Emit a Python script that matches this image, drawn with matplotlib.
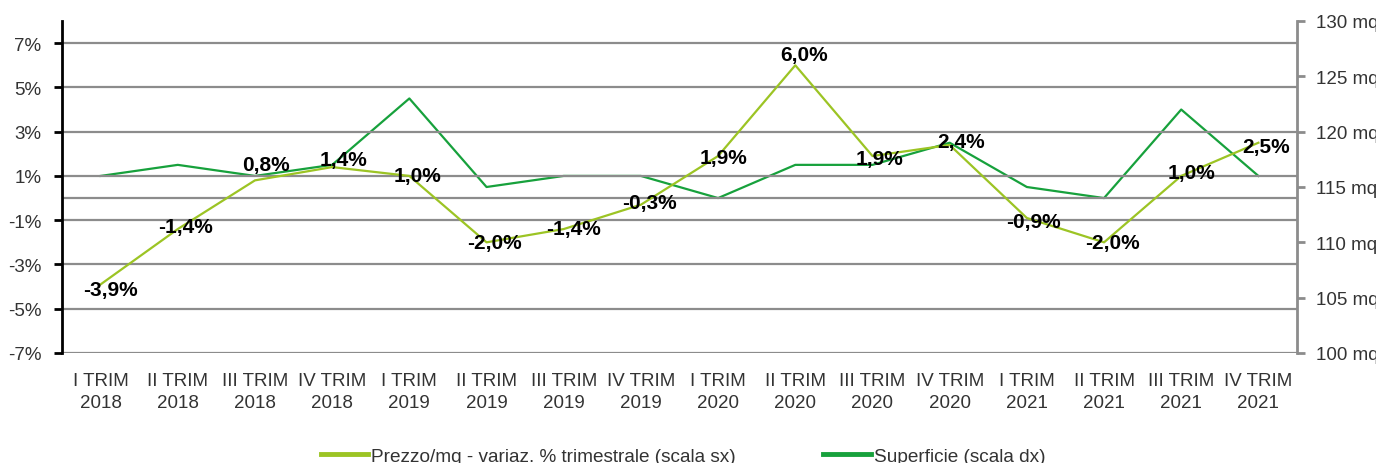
import matplotlib
matplotlib.use("Agg")
import matplotlib.pyplot as plt
from matplotlib.lines import Line2D

plt.rcParams['font.family'] = ['Liberation Sans', 'DejaVu Sans']

quarters = ["I TRIM", "II TRIM", "III TRIM", "IV TRIM"] * 4
years = ["2018"] * 4 + ["2019"] * 4 + ["2020"] * 4 + ["2021"] * 4
prezzo_var = [-3.9, -1.4, 0.8, 1.4, 1.0, -2.0, -1.4, -0.3, 1.9, 6.0, 1.9, 2.4, -0.9, -2.0, 1.0, 2.5]
superficie = [116, 117, 116, 117, 123, 115, 116, 116, 114, 117, 117, 119, 115, 114, 122, 116]
left_ticks = [-7, -5, -3, -1, 1, 3, 5, 7]
right_ticks = [100, 105, 110, 115, 120, 125, 130]

LIGHT = "#9cc424"
DARK = "#17a13c"
GRID = "#8c8c8c"
TXT = "#333333"

fig = plt.figure(figsize=(13.76, 4.64), dpi=100)
ax = fig.add_axes([62/1376, 1-354/464, (1297-62)/1376, (354-22)/464])
ax2 = ax.twinx()

x = list(range(len(prezzo_var)))
labels = [f"{q}\n{y}" for q, y in zip(quarters, years)]

ax.set_xlim(-0.5, len(x) - 0.5)
ax.set_ylim(-7, 8)
ax2.set_ylim(100, 130)

for t in left_ticks:
    ax.axhline(t, color=GRID, lw=1.6, zorder=1)
ax.axhline(0, color=GRID, lw=1.6, zorder=1)

ax.set_yticks(left_ticks)
ax.set_yticklabels([f"{t}%" for t in left_ticks])
ax2.set_yticks(right_ticks)
ax2.set_yticklabels([f"{t} mq" for t in right_ticks])
ax.set_xticks(x)
ax.set_xticklabels(labels, linespacing=1.32)

for s in ["top", "bottom", "right"]:
    ax.spines[s].set_visible(False)
for s in ["top", "bottom", "left"]:
    ax2.spines[s].set_visible(False)
ax.spines["left"].set_color("black")
ax.spines["left"].set_linewidth(2)
ax2.spines["right"].set_color(GRID)
ax2.spines["right"].set_linewidth(2)

ax.tick_params(axis='y', direction='out', length=6, width=2, color='black', labelsize=13.5, labelcolor=TXT, pad=9)
ax.tick_params(axis='x', length=0, labelsize=13.5, labelcolor=TXT, pad=14)
ax2.tick_params(axis='y', direction='out', length=6, width=2, color=GRID, labelsize=13.5, labelcolor=TXT, pad=8)

ax2.plot(x, superficie, color=DARK, lw=1.6, zorder=3)
ax.set_zorder(ax2.get_zorder() + 1)
ax.patch.set_visible(False)
ax.plot(x, prezzo_var, color=LIGHT, lw=1.6, zorder=3)

offsets = [(10, -5), (8, 3), (11, 16), (11, 8), (8, 0), (8, 0), (10, 1), (9, 2),
           (5, -1), (9, 11), (7, -2), (11, 3), (7, -4), (8, 0), (10, 3), (8, -4)]
for xi, v, (dx, dy) in zip(x, prezzo_var, offsets):
    ax.annotate(f"{v:.1f}%".replace(".", ","), (xi, v), xytext=(dx, dy),
                textcoords='offset pixels', ha='center', va='center',
                fontsize=15, fontweight='bold', color='black', zorder=5)

handles = [Line2D([], [], color=LIGHT, lw=3.5), Line2D([], [], color=DARK, lw=3.5)]
fig.legend(handles, ["Prezzo/mq - variaz. % trimestrale (scala sx)", "Superficie (scala dx)"],
           loc='center', bbox_to_anchor=(683/1376, 1-457/464), ncol=2, frameon=False,
           fontsize=13.7, handlelength=2.5, handletextpad=0.15, columnspacing=4.6,
           labelcolor=TXT)

fig.savefig("out.png", dpi=100)
